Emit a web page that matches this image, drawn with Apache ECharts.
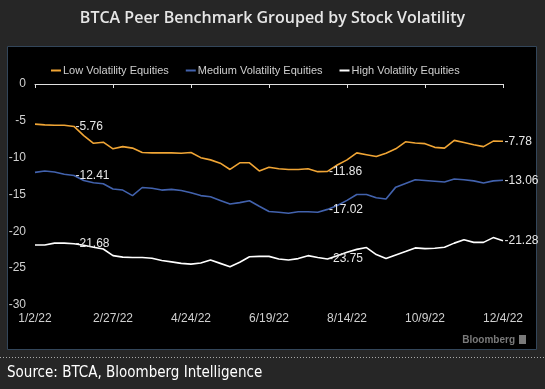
<!DOCTYPE html>
<html><head><meta charset="utf-8">
<script src="https://cdn.jsdelivr.net/npm/echarts@6/dist/echarts.min.js"></script>
<style>html,body{margin:0;padding:0;background:#262626;}#c{width:545px;height:389px;}</style>
</head><body><div id="c"></div>
<script>
const dates = ['1/2/22','1/9/22','1/16/22','1/23/22','1/30/22','2/6/22','2/13/22','2/20/22','2/27/22','3/6/22','3/13/22','3/20/22','3/27/22','4/3/22','4/10/22','4/17/22','4/24/22','5/1/22','5/8/22','5/15/22','5/22/22','5/29/22','6/5/22','6/12/22','6/19/22','6/26/22','7/3/22','7/10/22','7/17/22','7/24/22','7/31/22','8/7/22','8/14/22','8/21/22','8/28/22','9/4/22','9/11/22','9/18/22','9/25/22','10/2/22','10/9/22','10/16/22','10/23/22','10/30/22','11/6/22','11/13/22','11/20/22','11/27/22','12/4/22'];
const lowVol = [-5.45,-5.55,-5.6,-5.6,-5.76,-7.0,-8.05,-7.9,-8.8,-8.5,-8.7,-9.3,-9.35,-9.35,-9.35,-9.4,-9.3,-10.0,-10.3,-10.75,-11.6,-10.7,-10.7,-11.8,-11.3,-11.5,-11.6,-11.6,-11.5,-11.9,-11.86,-11.0,-10.3,-9.35,-9.6,-9.85,-9.4,-8.8,-7.85,-8.0,-8.1,-8.6,-8.7,-7.65,-7.95,-8.25,-8.5,-7.75,-7.78];
const medVol = [-12.0,-11.8,-11.95,-12.25,-12.41,-13.1,-13.4,-13.55,-14.25,-14.4,-15.15,-14.05,-14.15,-14.4,-14.3,-14.45,-14.75,-15.15,-15.3,-15.8,-16.3,-16.1,-15.85,-16.6,-17.3,-17.4,-17.55,-17.35,-17.35,-17.4,-17.02,-16.5,-15.8,-15.0,-15.0,-15.45,-15.6,-14.0,-13.5,-13.0,-13.1,-13.2,-13.3,-12.9,-13.0,-13.15,-13.45,-13.15,-13.06];
const highVol = [-21.85,-21.85,-21.6,-21.6,-21.68,-21.9,-22.15,-22.4,-23.3,-23.5,-23.55,-23.55,-23.65,-23.95,-24.15,-24.35,-24.45,-24.3,-23.9,-24.35,-24.8,-24.2,-23.45,-23.4,-23.4,-23.75,-23.9,-23.7,-23.3,-23.55,-23.75,-23.3,-22.85,-22.45,-22.2,-23.15,-23.7,-23.2,-22.75,-22.25,-22.35,-22.3,-22.15,-21.6,-21.15,-21.5,-21.5,-20.85,-21.28];
const seriesNames = ['Low Volatility Equities','Medium Volatility Equities','High Volatility Equities'];
const seriesColors = ['#f0a535','#4262ad','#ffffff'];
const labelIdx = [4, 30, 48];
const yTicks = [0,-5,-10,-15,-20,-25,-30];

const chart = echarts.init(document.getElementById('c'));
const FONT = 'Liberation Sans';
function mk(name, arr, color){
  return {
    name, type:'line', data: arr, xAxisIndex:0, showSymbol:false, symbol:'none',
    lineStyle:{color, width:1.6}, itemStyle:{color},
    markPoint:{
      symbol:'rect', symbolSize:1, itemStyle:{color:'rgba(0,0,0,0)'},
      label:{show:true, position:'right', distance:1, color:'#e6e6e6', fontSize:12, fontFamily:FONT,
        formatter:p=>Number(p.value).toFixed(2)},
      data: labelIdx.map(i=>({coord:[dates[i], arr[i]], value: arr[i]}))
    }
  };
}
chart.setOption({
  backgroundColor:'#262626',
  animation:false,
  graphic:[
    {type:'rect', shape:{x:7.5,y:46.5,width:529,height:303}, style:{fill:'#000', stroke:'#33465a', lineWidth:1}, z:-10},
    {type:'text', left:'center', top:10, style:{text:'BTCA Peer Benchmark Grouped by Stock Volatility', fill:'#e6e6e6', font:'600 16px "Open Sans"'}},
    {type:'text', right:30, top:335, style:{text:'Bloomberg', fill:'#7a7a7a', font:'bold 10px "Liberation Sans"'}},
    {type:'rect', shape:{x:519,y:335,width:7,height:9}, style:{fill:'#7a7a7a'}},
    {type:'line', shape:{x1:0,y1:357.5,x2:545,y2:357.5}, style:{stroke:'#aaaaaa', lineWidth:1, lineDash:[1,2]}},
    {type:'text', left:7, top:366, style:{text:'Source: BTCA, Bloomberg Intelligence', fill:'#ffffff', font:'15px "DejaVu Sans Condensed"'}}
  ],
  legend:{
    left:46, top:60, itemWidth:10, itemHeight:2, itemGap:17, icon:'rect',
    textStyle:{color:'#cfcfcf', fontSize:11, fontFamily:FONT, padding:[0,0,0,-3]},
    data: seriesNames
  },
  grid:{left:35, right:42, top:84, bottom:84},
  xAxis:[
    {type:'category', data:dates, boundaryGap:false, position:'bottom',
     axisLine:{show:false}, axisTick:{show:false},
     axisLabel:{interval:7, color:'#d0d0d0', fontSize:12, fontFamily:FONT, margin:8}},
    {type:'category', data:dates, boundaryGap:false, position:'top',
     axisLine:{show:true, lineStyle:{color:'#e0e0e0', width:1}},
     axisTick:{show:true, interval:7, inside:true, length:4, lineStyle:{color:'#e0e0e0'}},
     axisLabel:{show:false}}
  ],
  yAxis:{type:'value', min:-30, max:0, interval:5,
    axisLine:{show:false}, axisTick:{show:false}, splitLine:{show:false},
    axisLabel:{color:'#d0d0d0', fontSize:12, fontFamily:FONT, margin:9}},
  series:[
    mk(seriesNames[0], lowVol, seriesColors[0]),
    mk(seriesNames[1], medVol, seriesColors[1]),
    mk(seriesNames[2], highVol, seriesColors[2]),
    {type:'line', xAxisIndex:1, data:[], silent:true}
  ]
});
</script></body></html>
